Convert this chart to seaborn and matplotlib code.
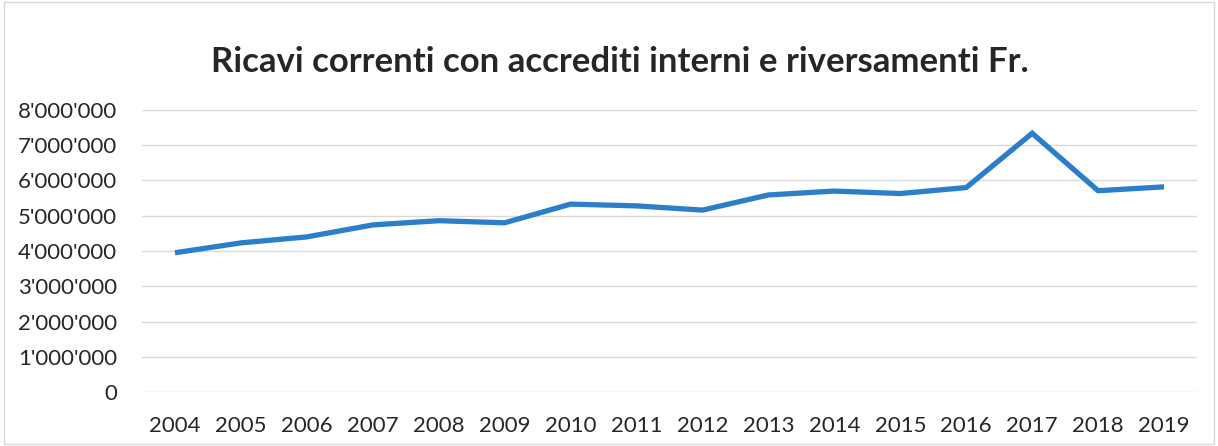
import matplotlib
matplotlib.use("Agg")
import matplotlib.pyplot as plt
import matplotlib.ticker as mticker
from matplotlib.patches import Rectangle
import seaborn as sns
import pandas as pd

years = [str(y) for y in range(2004, 2020)]
values = [3950000, 4230000, 4400000, 4740000, 4860000, 4800000, 5330000, 5280000,
          5160000, 5590000, 5700000, 5630000, 5800000, 7340000, 5710000, 5820000]
title = "Ricavi correnti con accrediti interni e riversamenti Fr."
yticks = list(range(0, 8000001, 1000000))

df = pd.DataFrame({"anno": years, "ricavi": values})

sns.set_theme(style="white")
plt.rcParams['font.family'] = ['Lato', 'DejaVu Sans']

fig = plt.figure(figsize=(12.18, 4.46), dpi=100)
ax = fig.add_axes([142/1218, 1 - 392/446, (1197-142)/1218, (392-110)/446])

sns.lineplot(data=df, x="anno", y="ricavi", ax=ax, color="#2b7fc9", linewidth=3.8,
             sort=False, solid_capstyle="butt", solid_joinstyle="miter")

ax.set_xlim(-0.5, len(years) - 0.5)
ax.set_ylim(0, 8000000)
ax.set_yticks(yticks)
ax.yaxis.set_major_formatter(mticker.FuncFormatter(lambda v, p: "0" if v == 0 else f"{int(v):,}".replace(",", "'")))
ax.grid(axis="y", color="#d9d9d9", linewidth=1)
ax.set_axisbelow(True)
for s in ax.spines.values():
    s.set_visible(False)
ax.tick_params(axis="both", length=0, labelsize=16, colors="#262626")
ax.tick_params(axis="y", pad=18)
ax.tick_params(axis="x", pad=17)
ax.set_xlabel("")
ax.set_ylabel("")

fig.text(620/1218, 1 - 62/446, title, ha="center", va="center", fontsize=25,
         fontweight="bold", color="#262626")

fig.patches.append(Rectangle((4/1218, 2/446), 1210/1218, 442/446, transform=fig.transFigure,
                             fill=False, edgecolor="#d9d9d9", linewidth=1))

fig.savefig("out.png", dpi=100)
